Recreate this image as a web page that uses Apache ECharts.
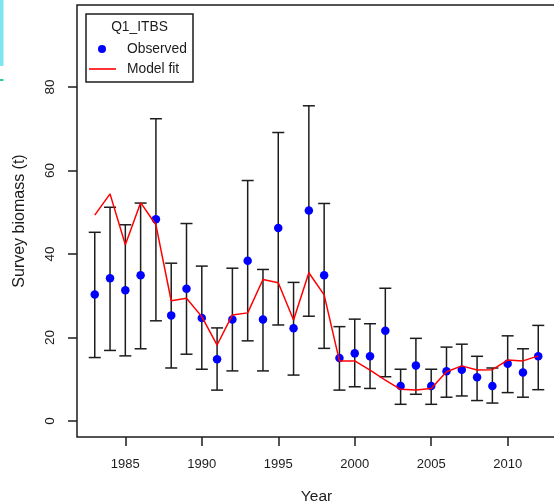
<!DOCTYPE html>
<html>
<head>
<meta charset="utf-8">
<script src="https://cdn.jsdelivr.net/npm/echarts@6/dist/echarts.min.js"></script>
<style>
html,body{margin:0;padding:0;background:#fff;}
#chart{width:554px;height:503px;}
</style>
</head>
<body>
<div id="chart"></div>
<script>
var years = [1983,1984,1985,1986,1987,1988,1989,1990,1991,1992,1993,1994,1995,1996,1997,1998,1999,2000,2001,2002,2003,2004,2005,2006,2007,2008,2009,2010,2011,2012];
var observed = [30.3,34.2,31.3,34.9,48.3,25.3,31.7,24.7,14.8,24.3,38.4,24.3,46.2,22.2,50.4,34.9,15.1,16.2,15.5,21.6,8.4,13.3,8.4,11.9,12.3,10.5,8.4,13.7,11.6,15.5];
var lower = [15.2,16.9,15.6,17.3,24.0,12.7,16.0,12.4,7.4,12.0,19.2,12.0,23.0,11.0,25.1,17.4,7.4,8.2,7.8,10.6,4.0,6.4,4.0,5.7,6.0,4.9,4.3,6.8,5.7,7.5];
var upper = [45.2,51.2,47.0,52.2,72.4,37.8,47.3,37.1,22.3,36.6,57.6,36.3,69.1,33.2,75.5,52.1,22.6,24.4,23.3,31.8,12.4,19.8,12.4,17.7,18.4,15.5,12.7,20.4,17.3,22.9];
var modelFit = [49.3,54.4,42.2,52.3,47.0,28.8,29.4,25.0,18.2,25.4,25.9,33.9,33.1,24.2,35.5,30.2,14.4,14.4,12.2,9.8,7.6,7.4,7.8,11.8,13.2,12.2,12.3,14.6,14.4,15.6];
var xTicks = [1985,1990,1995,2000,2005,2010];
var yTicks = [0,20,40,60,80];
var legendTitle = 'Q1_ITBS';

var FONT = "'Liberation Sans', Arial, sans-serif";
var INK = '#1c1c1c';

var obsData = years.map(function(y,i){return [y, observed[i]];});
var fitData = years.map(function(y,i){return [y, modelFit[i]];});
var barData = years.map(function(y,i){return [y, lower[i], upper[i]];});

var chart = echarts.init(document.getElementById('chart'), null, {renderer:'canvas'});
chart.setOption({
  backgroundColor:'#ffffff',
  animation:false,
  grid:{left:77, top:5, width:479, height:432, show:true, borderColor:INK, borderWidth:1.5, backgroundColor:'transparent', containLabel:false, outerBoundsMode:'none'},
  xAxis:{
    type:'value', min:1981.84, max:2013.16,
    name:'Year', nameLocation:'middle', nameGap:52,
    nameTextStyle:{fontFamily:FONT, fontSize:15.5, color:INK},
    axisLine:{show:false, onZero:false},
    splitLine:{show:false},
    axisTick:{show:true, inside:false, customValues:xTicks, length:9, lineStyle:{color:INK, width:1.5}},
    axisLabel:{customValues:xTicks, fontFamily:FONT, fontSize:13, color:INK, margin:21, formatter:function(v){return String(v);}}
  },
  yAxis:{
    type:'value', min:-3.83, max:99.64,
    name:'Survey biomass (t)', nameLocation:'middle', nameGap:49,
    nameTextStyle:{fontFamily:FONT, fontSize:16, color:INK},
    axisLine:{show:false, onZero:false},
    splitLine:{show:false},
    axisTick:{show:true, inside:false, customValues:yTicks, length:9, lineStyle:{color:INK, width:1.5}},
    axisLabel:{customValues:yTicks, rotate:90, fontFamily:FONT, fontSize:13.5, color:INK, margin:20}
  },
  legend:[
    {data:[{name:'Observed', icon:'circle'}], left:98, top:42, padding:0, itemWidth:8, itemHeight:8,
     textStyle:{fontFamily:FONT, fontSize:13.8, color:INK, padding:[0,0,0,16]}},
    {data:[{name:'Model fit', icon:'rect'}], left:89, top:62, padding:0, itemWidth:27, itemHeight:1.6,
     itemStyle:{color:'#ff0000'},
     textStyle:{fontFamily:FONT, fontSize:13.8, color:INK, padding:[0,0,0,6]}}
  ],
  graphic:[
    {type:'rect', shape:{x:86, y:14, width:107, height:68}, style:{fill:'none', stroke:INK, lineWidth:1.5}, z:10},
    {type:'text', style:{text:legendTitle, x:139.5, y:27, align:'center', verticalAlign:'middle', font:'13.8px '+FONT, fill:INK}, z:10},
    {type:'rect', shape:{x:0, y:0, width:3.5, height:66}, style:{fill:'#7fe6f1'}, z:10},
    {type:'rect', shape:{x:0, y:79, width:3.5, height:2}, style:{fill:'#33cc99'}, z:10}
  ],
  series:[
    {
      type:'custom', name:'errorbars', data:barData, z:2, silent:true,
      renderItem:function(params, api){
        var x = api.value(0);
        var lo = api.coord([x, api.value(1)]);
        var hi = api.coord([x, api.value(2)]);
        var hw = 6;
        var st = {stroke:INK, lineWidth:1.5};
        return {type:'group', children:[
          {type:'line', shape:{x1:lo[0], y1:lo[1], x2:hi[0], y2:hi[1]}, style:st},
          {type:'line', shape:{x1:lo[0]-hw, y1:lo[1], x2:lo[0]+hw, y2:lo[1]}, style:st},
          {type:'line', shape:{x1:hi[0]-hw, y1:hi[1], x2:hi[0]+hw, y2:hi[1]}, style:st}
        ]};
      }
    },
    {type:'scatter', name:'Observed', data:obsData, symbol:'circle', symbolSize:8.5, itemStyle:{color:'#0000ff', opacity:1}, z:3},
    {type:'line', name:'Model fit', data:fitData, symbol:'none', showSymbol:false, lineStyle:{color:'#ff0000', width:1.5}, itemStyle:{color:'#ff0000'}, z:4}
  ]
});
</script>
</body>
</html>
